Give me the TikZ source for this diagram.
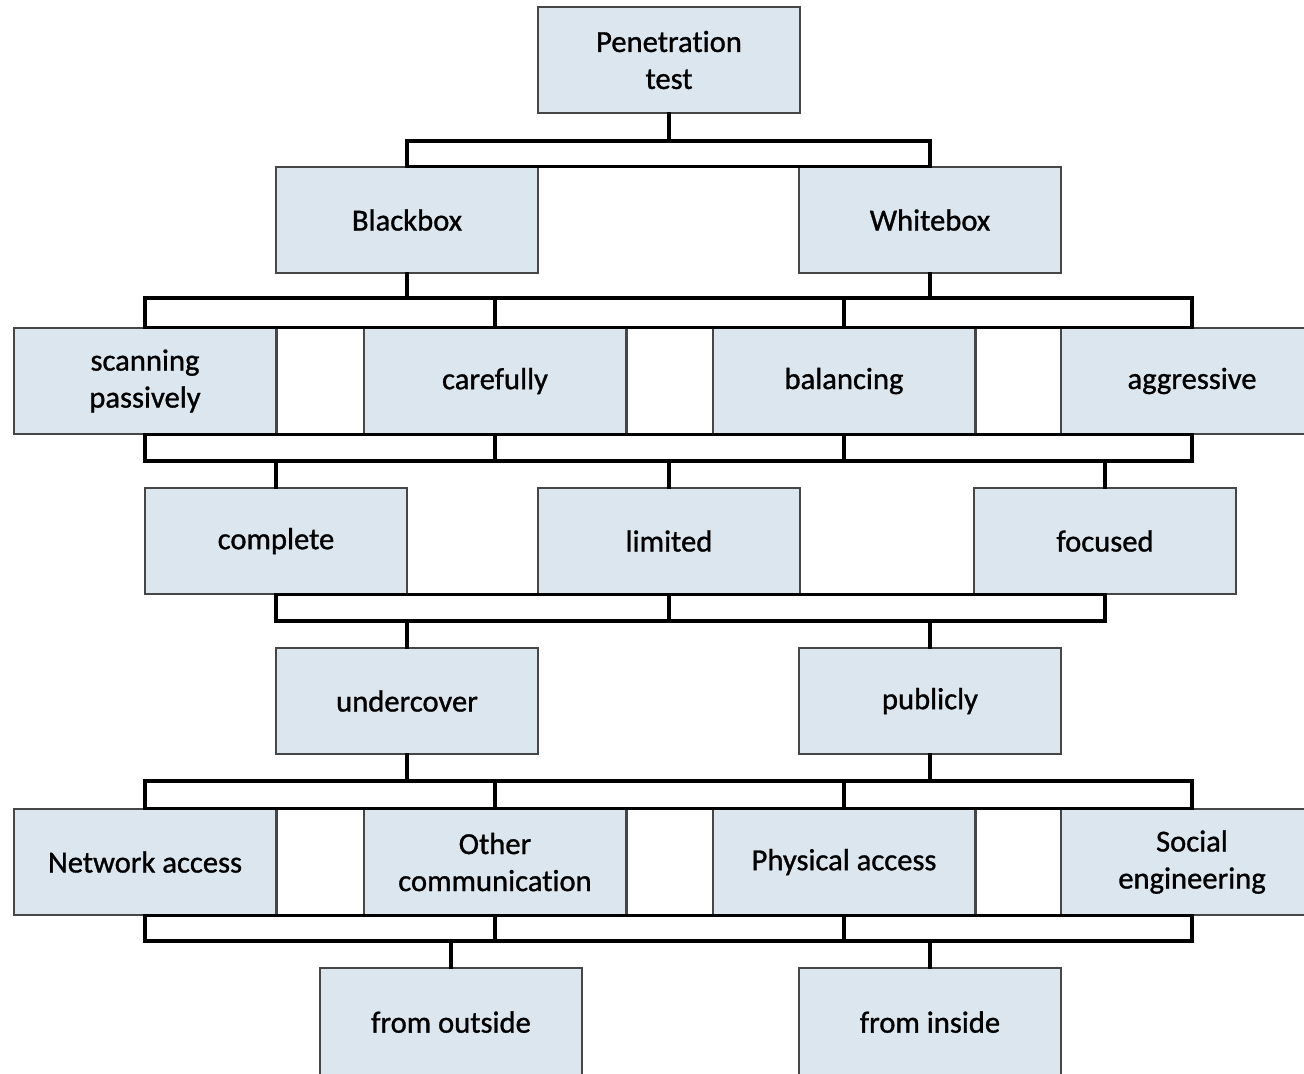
\documentclass[tikz,border=0pt]{standalone}
\usepackage{fontspec}
\setmainfont[Ligatures=NoCommon,FakeBold=1]{Carlito}
\usetikzlibrary{calc}
\definecolor{boxfill}{RGB}{220,230,238}
\definecolor{boxline}{RGB}{70,70,70}
\begin{document}
\begin{tikzpicture}[x=0.5pt,y=-0.5pt,
  tbox/.style={draw=boxline,line width=0.75pt,fill=boxfill,
    minimum width=131pt,minimum height=53pt,inner sep=0pt,align=center,
    font=\fontsize{15.3}{18.5}\selectfont},
  gapbox/.style={draw=boxline,line width=0.75pt,fill=white},
  bar/.style={draw=black,line width=1.65pt,line cap=rect,line join=miter}]
\useasboundingbox (0,0) rectangle (1304,1073);

% levels of the horizontal bars
\coordinate (y1) at (0,141);
\coordinate (y2) at (0,298);
\coordinate (y3) at (0,461);
\coordinate (y4) at (0,621);
\coordinate (y5) at (0,781);
\coordinate (y6) at (0,941);

% row 1
\node[tbox] (pen) at (669,60) {Penetration\\test};
% row 2
\node[tbox] (bb) at (407,220) {Blackbox};
\node[tbox] (wb) at (930,220) {Whitebox};
% row 3
\node[tbox] (sp) at (145,381) {scanning\\passively};
\node[tbox] (cf) at (495,381) {carefully};
\node[tbox] (bl) at (844,381) {balancing};
\node[tbox] (ag) at (1192,381) {aggressive};
% row 4
\node[tbox] (co) at (276,541) {complete};
\node[tbox] (li) at (669,541) {limited};
\node[tbox] (fo) at (1105,541) {focused};
% row 5
\node[tbox] (uc) at (407,701) {undercover};
\node[tbox] (pu) at (930,701) {publicly};
% row 6
\node[tbox] (na) at (145,862) {Network access};
\node[tbox] (oc) at (495,862) {Other\\communication};
\node[tbox] (pa) at (844,862) {Physical access};
\node[tbox] (se) at (1192,862) {Social\\engineering};
% row 7
\node[tbox,minimum height=56pt] (fout) at (451,1024) {\raisebox{2pt}{from outside}};
\node[tbox,minimum height=56pt] (fin) at (930,1024) {\raisebox{2pt}{from inside}};

% white gaps between neighbouring boxes
\draw[gapbox] (sp.north east) rectangle (cf.south west);
\draw[gapbox] (cf.north east) rectangle (bl.south west);
\draw[gapbox] (bl.north east) rectangle (ag.south west);
\draw[gapbox] (na.north east) rectangle (oc.south west);
\draw[gapbox] (oc.north east) rectangle (pa.south west);
\draw[gapbox] (pa.north east) rectangle (se.south west);

% row 1 -> row 2
\draw[bar] (pen.south) -- (pen.south |- y1);
\draw[bar] (bb.north) rectangle (wb.north |- y1);

% row 2 -> row 3
\draw[bar] (bb.south) -- (bb.south |- y2);
\draw[bar] (wb.south) -- (wb.south |- y2);
\draw[bar] (sp.north) rectangle (ag.north |- y2);
\draw[bar] (cf.north) -- (cf.north |- y2);
\draw[bar] (bl.north) -- (bl.north |- y2);

% row 3 -> row 4
\draw[bar] (sp.south) rectangle (ag.south |- y3);
\draw[bar] (cf.south) -- (cf.south |- y3);
\draw[bar] (bl.south) -- (bl.south |- y3);
\draw[bar] (co.north |- y3) -- (co.north);
\draw[bar] (li.north |- y3) -- (li.north);
\draw[bar] (fo.north |- y3) -- (fo.north);

% row 4 -> row 5
\draw[bar] (co.south) rectangle (fo.south |- y4);
\draw[bar] (li.south) -- (li.south |- y4);
\draw[bar] (uc.north |- y4) -- (uc.north);
\draw[bar] (pu.north |- y4) -- (pu.north);

% row 5 -> row 6
\draw[bar] (uc.south) -- (uc.south |- y5);
\draw[bar] (pu.south) -- (pu.south |- y5);
\draw[bar] (na.north) rectangle (se.north |- y5);
\draw[bar] (oc.north) -- (oc.north |- y5);
\draw[bar] (pa.north) -- (pa.north |- y5);

% row 6 -> row 7
\draw[bar] (na.south) rectangle (se.south |- y6);
\draw[bar] (oc.south) -- (oc.south |- y6);
\draw[bar] (pa.south) -- (pa.south |- y6);
\draw[bar] (fout.north |- y6) -- (fout.north);
\draw[bar] (fin.north |- y6) -- (fin.north);
\end{tikzpicture}
\end{document}
